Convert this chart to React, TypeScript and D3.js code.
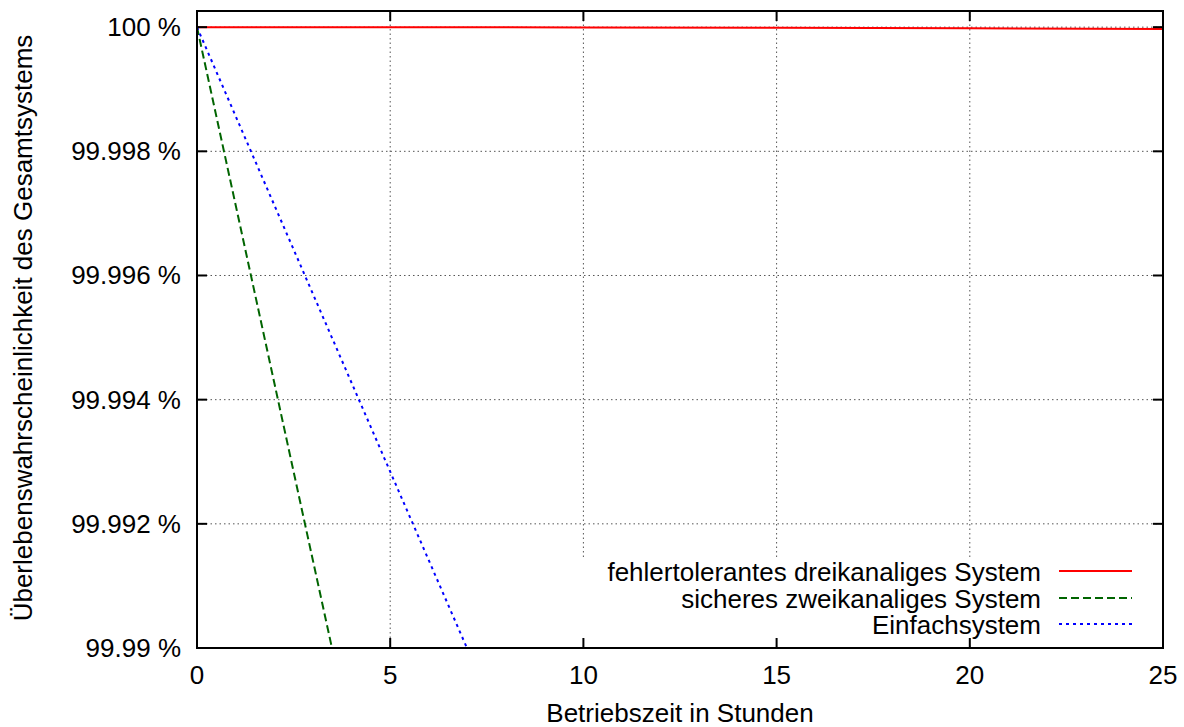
import React from "react";
import * as d3 from "d3";

const xTicks = [0, 5, 10, 15, 20, 25];
const yTicks = [99.99, 99.992, 99.994, 99.996, 99.998, 100];
const yTickLabels = ["99.99 %", "99.992 %", "99.994 %", "99.996 %", "99.998 %", "100 %"];

const redT = [0, 5, 10, 15, 20, 25];
const redV = [100, 99.999999, 99.999995, 99.999989, 99.999981, 99.99997];

const greenT = [0, 0.5, 1, 1.5, 2, 2.5, 3, 3.5];
const greenV = [100, 99.998567, 99.997135, 99.995703, 99.994272, 99.99284, 99.99141, 99.98998];

const blueT = [0, 1, 2, 3, 4, 5, 6, 7];
const blueV = [100, 99.998567, 99.997135, 99.995703, 99.994272, 99.99284, 99.99141, 99.98998];

const seriesNames = ["fehlertolerantes dreikanaliges System", "sicheres zweikanaliges System", "Einfachsystem"];
const seriesColors = ["#ff0000", "#006400", "#0000ff"];
const seriesDash = ["none", "8,4", "3,4"];

const W = 1184, H = 727;
const L = 197, R = 1163, T = 11, B = 648;
const FONT = "'Liberation Sans', Arial, Helvetica, sans-serif";
const FS = 26;

export default function App() {
  const x = d3.scaleLinear().domain([0, 25]).range([L, R]);
  const y = d3.scaleLinear().domain([99.99, 100.00026]).range([B, T]);
  const line = d3.line<[number, number]>().x(d => x(d[0])).y(d => y(d[1]));
  const series = [
    redT.map((t, i) => [t, redV[i]] as [number, number]),
    greenT.map((t, i) => [t, greenV[i]] as [number, number]),
    blueT.map((t, i) => [t, blueV[i]] as [number, number]),
  ];
  const legendRows = [571, 598, 624];
  const tickLen = 10;
  return (
    <svg width={W} height={H} style={{ position: "absolute", left: 0, top: 0, background: "#fff" }} fontFamily={FONT}>
      <defs>
        <clipPath id="plot">
          <rect x={L} y={T} width={R - L} height={B - T} />
        </clipPath>
      </defs>
      <rect x={0} y={0} width={W} height={H} fill="#fff" />
      <g stroke="#555" strokeWidth={1} strokeDasharray="1.5,3">
        {xTicks.filter(t => t > 0 && t < 25).map(t => (
          <line key={"gx" + t} x1={x(t)} x2={x(t)} y1={T} y2={B} />
        ))}
        {yTicks.filter(v => v > 99.99).map(v => (
          <line key={"gy" + v} x1={L} x2={R} y1={y(v)} y2={y(v)} />
        ))}
      </g>
      <rect x={575} y={557} width={580} height={86} fill="#fff" />
      <g clipPath="url(#plot)" fill="none">
        {series.map((s, i) => (
          <path key={i} d={line(s) || ""} stroke={seriesColors[i]} strokeWidth={2} strokeDasharray={seriesDash[i]} />
        ))}
      </g>
      <g stroke="#000" strokeWidth={2}>
        {xTicks.map(t => (
          <g key={"tx" + t}>
            <line x1={x(t)} x2={x(t)} y1={B} y2={B - tickLen} />
            <line x1={x(t)} x2={x(t)} y1={T} y2={T + tickLen} />
          </g>
        ))}
        {yTicks.map(v => (
          <g key={"ty" + v}>
            <line x1={L} x2={L + tickLen} y1={y(v)} y2={y(v)} />
            <line x1={R} x2={R - tickLen} y1={y(v)} y2={y(v)} />
          </g>
        ))}
      </g>
      <rect x={L} y={T} width={R - L} height={B - T} fill="none" stroke="#000" strokeWidth={2} />
      <g fontSize={FS} fill="#000">
        {xTicks.map(t => (
          <text key={"lx" + t} x={x(t)} y={684} textAnchor="middle">{t}</text>
        ))}
        {yTicks.map((v, i) => (
          <text key={"ly" + v} x={181} y={y(v) + 9} textAnchor="end">{yTickLabels[i]}</text>
        ))}
      </g>
      <text x={680} y={722} fontSize={FS} textAnchor="middle">Betriebszeit in Stunden</text>
      <text transform="translate(32,328) rotate(-90)" fontSize={FS} textAnchor="middle">Überlebenswahrscheinlichkeit des Gesamtsystems</text>
      <g fontSize={FS}>
        {seriesNames.map((n, i) => (
          <g key={"lg" + i}>
            <text x={1041} y={legendRows[i] + 10} textAnchor="end">{n}</text>
            <line x1={1059} x2={1132} y1={legendRows[i]} y2={legendRows[i]} stroke={seriesColors[i]} strokeWidth={2} strokeDasharray={seriesDash[i]} />
          </g>
        ))}
      </g>
    </svg>
  );
}
